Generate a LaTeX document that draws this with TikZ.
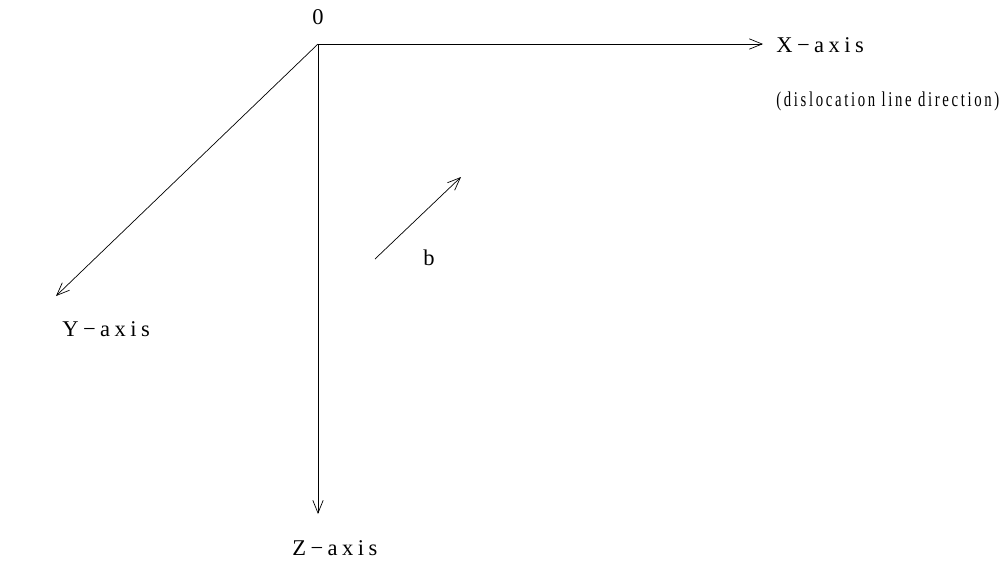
\documentclass[tikz,border=0pt]{standalone}
\usepackage{fontspec}
\setmainfont{Liberation Serif}
\usetikzlibrary{arrows.meta, positioning}

\begin{document}
\begin{tikzpicture}[x=0.025cm, y=-0.025cm,
      axis/.style={-{Straight Barb[length=3.2mm, width=2.6mm]}, line width=0.5pt},
      lbl/.style={inner sep=0pt, font=\fontsize{16}{18}\selectfont\addfontfeature{LetterSpace=20}},
      note/.style={inner sep=0pt, font=\fontsize{15}{17}\selectfont\addfontfeature{LetterSpace=18}}]
      \useasboundingbox (0,0) rectangle (1008,561);
      % origin and axis ends
      \coordinate (o) at (318,44);
      \coordinate (xend) at (763,44);
      \coordinate (yend) at (56,296);
      \coordinate (zend) at (318,514);
      \coordinate (bstart) at (375,259);
      \coordinate (bend) at (461,177);
      \draw[axis] (o) -- (xend);
      \draw[axis] (o) -- (yend);
      \draw[axis] (o) -- (zend);
      \draw[axis] (bstart) -- (bend);
      % labels
      \node[lbl] (olbl) at (318,17) {0};
      \node[lbl, anchor=west] (xlbl) at (776,45) {X−axis};
      \node[note, anchor=west] (dir) at (776,101) {\scalebox{0.7}[1]{(dislocation line direction)}};
      \node[lbl, anchor=west] (ylbl) at (62,329) {Y−axis};
      \node[lbl, anchor=west] (zlbl) at (292,548) {Z−axis};
      \node[lbl] (blbl) at (429,258) {b};
\end{tikzpicture}
\end{document}
